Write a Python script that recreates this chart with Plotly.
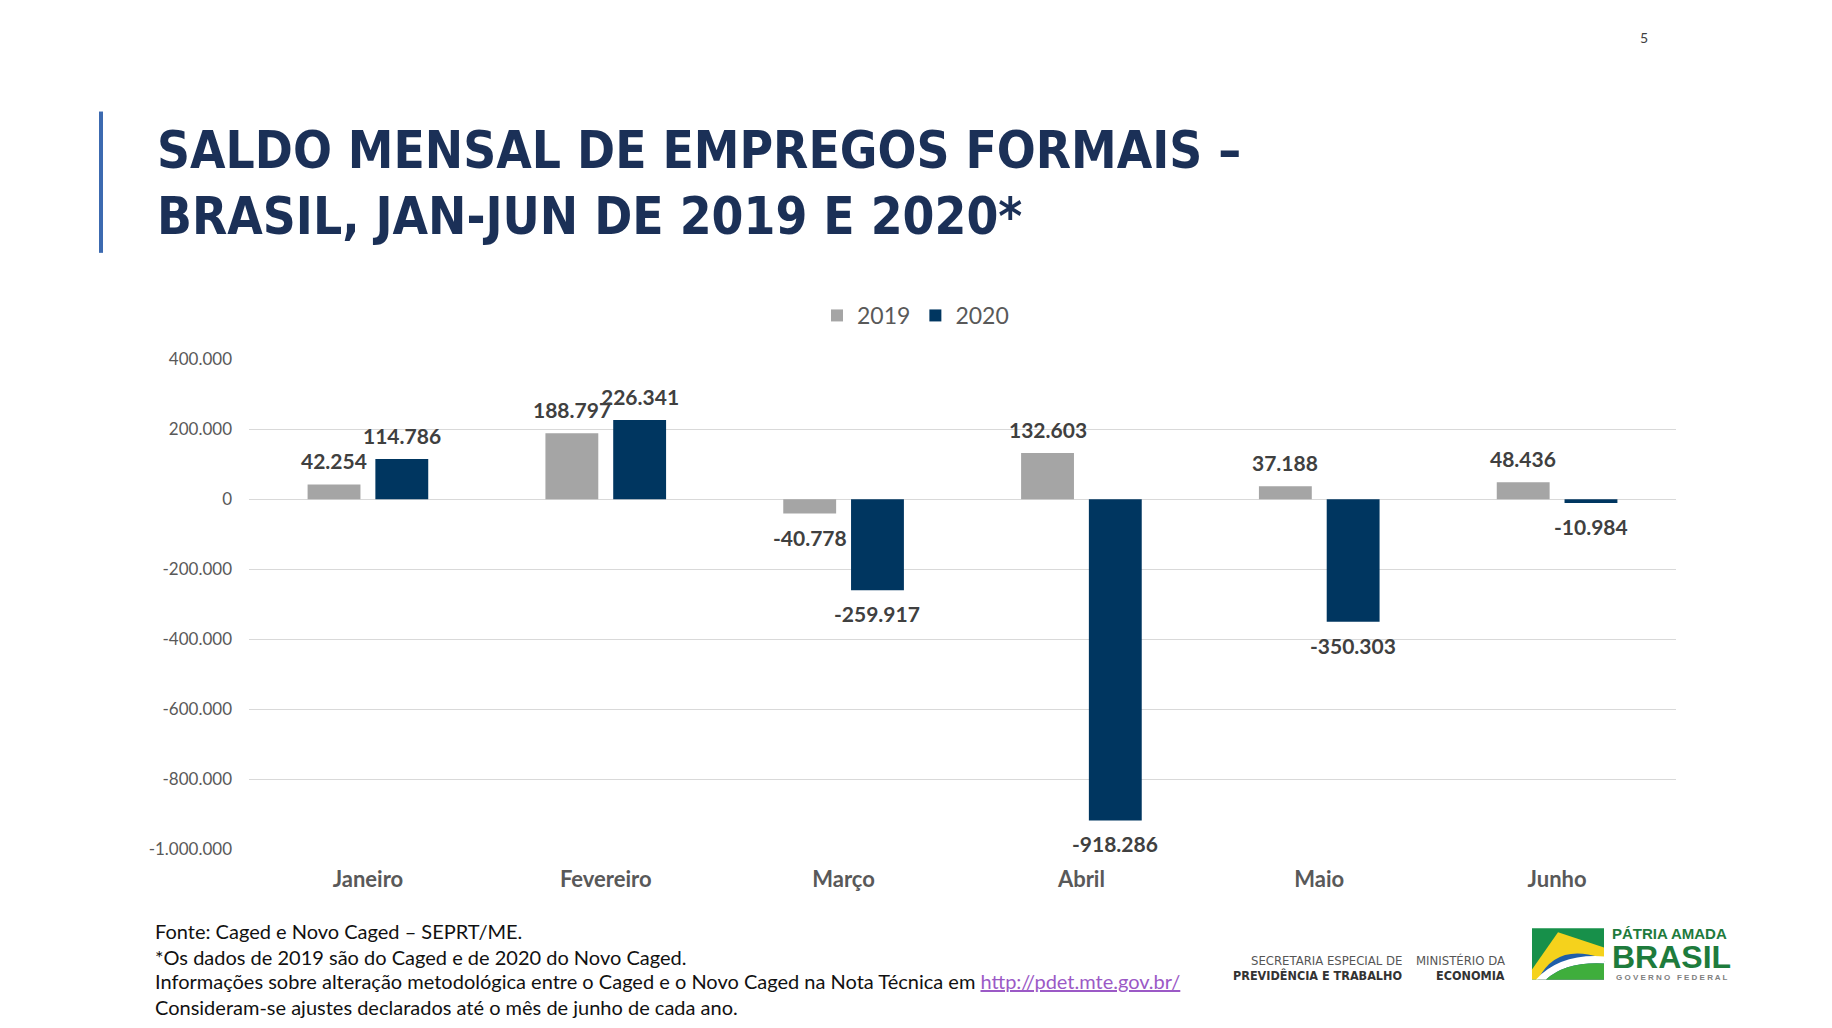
import plotly.graph_objects as go

W, H = 1832, 1028

# ---------------- data ----------------
months = ["Janeiro", "Fevereiro", "Março", "Abril", "Maio", "Junho"]
saldo_2019 = [42254, 188797, -40778, 132603, 37188, 48436]
saldo_2020 = [114786, 226341, -259917, -918286, -350303, -10984]
series_names = ["2019", "2020"]
y_tick_vals = [400000, 200000, 0, -200000, -400000, -600000, -800000, -1000000]
y_tick_text = ["400.000", "200.000", "0", "-200.000", "-400.000", "-600.000", "-800.000", "-1.000.000"]

title_lines = ["SALDO MENSAL DE EMPREGOS FORMAIS –", "BRASIL, JAN-JUN DE 2019 E 2020*"]
footnotes = [
    "Fonte: Caged e Novo Caged – SEPRT/ME.",
    "*Os dados de 2019 são do Caged e de 2020 do Novo Caged.",
    "Informações sobre alteração metodológica entre o Caged e o Novo Caged na Nota Técnica em "
    "<span style='color:#9B59C6'><u>http://pdet.mte.gov.br/</u></span>",
    "Consideram-se ajustes declarados até o mês de junho de cada ano.",
]

# ---------------- style ----------------
C2019 = "#A5A5A5"
C2020 = "#003660"
GRID = "#D9D9D9"
AXTXT = "#595959"
LBL = "#404040"
TITLE_C = "#1B3057"
FONT = "Lato"
COND = "DejaVu Sans Condensed"

# vertical mapping compensates for the page being captured slightly taller than the figure
VS, VO = 1.0231, -11.95

def px(x):
    return x / W

def py(y):
    return 1 - (VS * y + VO) / H

plot_l, plot_r = 249, 1676
plot_t, plot_b = 359.3, 847.8
BARGAP = 0.43
cat_w = (plot_r - plot_l) / len(months)
half_slot = (1 - BARGAP) * cat_w / 4

fig = go.Figure()
fig.add_trace(go.Bar(name=series_names[0], x=months, y=saldo_2019,
                     marker=dict(color=C2019, line=dict(width=0))))
fig.add_trace(go.Bar(name=series_names[1], x=months, y=saldo_2020,
                     marker=dict(color=C2020, line=dict(width=0))))

def fmt(v):
    return f"{v:,}".replace(",", ".")

annotations = []
for vals, sign in ((saldo_2019, -1), (saldo_2020, 1)):
    for m, v in zip(months, vals):
        annotations.append(dict(
            x=m, y=v, xref="x", yref="y", text=fmt(v), showarrow=False,
            xshift=sign * half_slot, yshift=23.5 if v >= 0 else -23.5,
            yanchor="middle", xanchor="center",
            font=dict(family=FONT, size=21, color=LBL, weight="bold"),
        ))

for txt, yc in zip(title_lines, (150.5, 217)):
    annotations.append(dict(
        x=px(155), y=py(yc), xref="paper", yref="paper", xanchor="left", yanchor="middle",
        text=txt, showarrow=False,
        font=dict(family=COND, size=51, color=TITLE_C, weight="bold"),
    ))

annotations.append(dict(x=px(1644), y=py(38.6), xref="paper", yref="paper", text="5",
                        xanchor="center", yanchor="middle",
                        showarrow=False, font=dict(family=FONT, size=14, color="#404040")))

for txt, yc in zip(footnotes, (929.5, 955.2, 979.7, 1005.4)):
    annotations.append(dict(
        x=px(153), y=py(yc), xref="paper", yref="paper", xanchor="left", yanchor="middle",
        text=txt, showarrow=False, font=dict(family=FONT, size=20, color="#111111"),
    ))

logo_txt = [
    ("SECRETARIA ESPECIAL DE", 1404, 959, "normal", "#555555", 13, COND, "right"),
    ("PREVIDÊNCIA E TRABALHO", 1404, 974, "bold", "#333333", 12.5, COND, "right"),
    ("MINISTÉRIO DA", 1507, 959, "normal", "#555555", 13, COND, "right"),
    ("ECONOMIA", 1507, 974, "bold", "#333333", 12.5, COND, "right"),
    ("PÁTRIA AMADA", 1610, 932, "bold", "#1E7B3C", 15, "Liberation Sans", "left"),
    ("BRASIL", 1610, 956, "bold", "#1E7B3C", 32, "Liberation Sans", "left"),
    ("G O V E R N O   F E D E R A L", 1672, 976, "bold", "#808080", 8, "Liberation Sans", "center"),
]
for txt, x, y, wt, col, sz, fam, anc in logo_txt:
    annotations.append(dict(x=px(x), y=py(y), xref="paper", yref="paper", xanchor=anc,
                            yanchor="middle", text=txt, showarrow=False,
                            font=dict(family=fam, size=sz, color=col, weight=wt)))

def path(points, close=True):
    s = ""
    for i, p in enumerate(points):
        if p[0] == "Q":
            s += f" Q{px(p[1]):.5f},{py(p[2]):.5f} {px(p[3]):.5f},{py(p[4]):.5f}"
        else:
            s += (" M" if i == 0 else " L") + f"{px(p[0]):.5f},{py(p[1]):.5f}"
    return s + (" Z" if close else "")

shapes = [
    dict(type="line", xref="paper", yref="paper", x0=px(101), x1=px(101), y0=py(112), y1=py(253),
         line=dict(color="#3C6AB0", width=4)),
    dict(type="rect", xref="paper", yref="paper", x0=px(1532), x1=px(1604), y0=py(927), y1=py(978),
         fillcolor="#17904A", line=dict(width=0)),
    dict(type="path", xref="paper", yref="paper",
         path=path([(1532, 968), (1558, 931), (1604, 946), (1604, 978), (1532, 978)]),
         fillcolor="#F5D21C", line=dict(width=0)),
    dict(type="path", xref="paper", yref="paper",
         path=path([(1538, 978), ("Q", 1556, 942, 1600, 956), (1604, 960), (1604, 978)]),
         fillcolor="#1F5FAA", line=dict(width=0)),
    dict(type="path", xref="paper", yref="paper",
         path=path([(1536, 978), ("Q", 1560, 952, 1604, 955), (1604, 962), ("Q", 1566, 960, 1546, 978)]),
         fillcolor="#FFFFFF", line=dict(width=0)),
    dict(type="path", xref="paper", yref="paper",
         path=path([(1546, 978), ("Q", 1566, 960, 1604, 962), (1604, 978)]),
         fillcolor="#3FAE3C", line=dict(width=0)),
]

fig.update_layout(
    width=W, height=H,
    margin=dict(l=0, r=0, t=0, b=0),
    paper_bgcolor="white", plot_bgcolor="white",
    barmode="group", bargap=BARGAP, bargroupgap=0.22,
    showlegend=True,
    legend=dict(orientation="h", x=px(817), xanchor="left", y=py(315.5), yanchor="middle",
                font=dict(family=FONT, size=23, color=AXTXT), bgcolor="rgba(0,0,0,0)",
                traceorder="normal"),
    xaxis=dict(domain=[px(plot_l), px(plot_r)], showgrid=False, showline=False, zeroline=False,
               ticks="", ticklabelstandoff=15,
               tickfont=dict(family=FONT, size=22, color=AXTXT, weight="bold")),
    yaxis=dict(domain=[py(plot_b), py(plot_t)], range=[-1000000, 400000],
               tickvals=y_tick_vals, ticktext=y_tick_text,
               showgrid=True, gridcolor=GRID, gridwidth=1,
               zeroline=True, zerolinecolor=GRID, zerolinewidth=1,
               showline=False, ticks="", ticklabelstandoff=16,
               tickfont=dict(family=FONT, size=17, color=AXTXT)),
    annotations=annotations,
    shapes=shapes,
    hovermode=False,
)

fig.write_html("out.html", config={"displayModeBar": False},
               post_script="document.documentElement.style.margin='0';document.body.style.margin='0';document.body.style.overflow='hidden';")
